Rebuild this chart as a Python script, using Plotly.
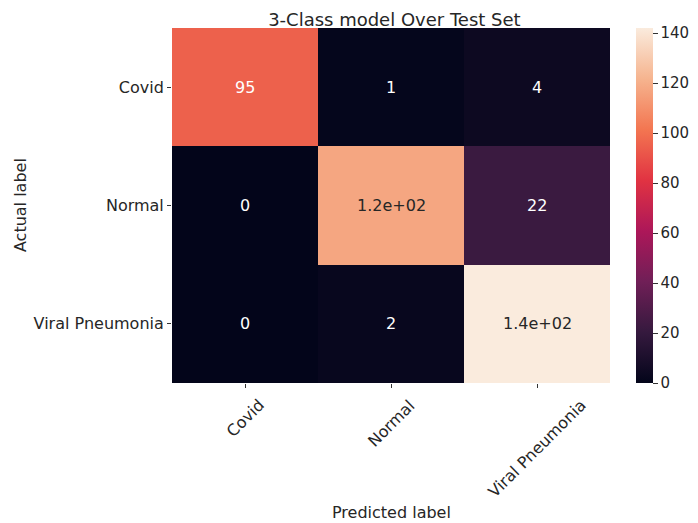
import plotly.graph_objects as go

classes = ["Covid", "Normal", "Viral Pneumonia"]
# rows = actual label, columns = predicted label
counts = [
    [95, 1, 4],
    [0, 117, 22],
    [0, 2, 142],
]

# seaborn "rocket" colormap, approximated
rocket = [
    [0.0, "#03051a"],
    [1 / 7, "#35193e"],
    [2 / 7, "#701f57"],
    [3 / 7, "#ad1759"],
    [4 / 7, "#e13342"],
    [5 / 7, "#f37651"],
    [6 / 7, "#f6b48f"],
    [1.0, "#faebdd"],
]

font = "DejaVu Sans"
fs = 16
vmax = max(max(r) for r in counts)

fig = go.Figure(go.Heatmap(
    z=counts, x=classes, y=classes,
    colorscale=rocket, zmin=0, zmax=vmax,
    xgap=0, ygap=0, hoverinfo="skip",
    colorbar=dict(
        x=1.059, xanchor="left", xref="paper",
        y=0.5, yanchor="middle", len=1, lenmode="fraction",
        thickness=17, outlinewidth=0, xpad=0, ypad=0,
        tickvals=[0, 20, 40, 60, 80, 100, 120, 140], tickprefix="  ",
        ticks="outside", ticklen=5, tickcolor="#333",
        tickfont=dict(family=font, size=fs - 1, color="#262626"),
    ),
))

# cell labels, seaborn-style ".2g" with contrast colour
for i, row in enumerate(counts):
    for j, v in enumerate(row):
        fig.add_annotation(
            x=classes[j], y=classes[i], text=format(v, ".2g"),
            showarrow=False,
            font=dict(family=font, size=fs,
                      color="#262626" if v / vmax > 0.75 else "white"),
        )

# rotated x tick labels, centered under ticks like matplotlib
for c in classes:
    fig.add_annotation(
        x=c, xref="x", y=0, yref="paper", yshift=-10,
        text=c, textangle=-45, showarrow=False,
        xanchor="center", yanchor="top",
        font=dict(family=font, size=fs, color="#262626"),
    )

fig.add_annotation(text="Predicted label", x=0.5, xref="paper", y=-0.365, yref="paper",
                   showarrow=False, yanchor="middle",
                   font=dict(family=font, size=fs, color="#262626"))
fig.add_annotation(text="Actual label", x=-0.372, xref="paper", y=0.5, yref="paper",
                   showarrow=False, textangle=-90, xanchor="left",
                   font=dict(family=font, size=fs, color="#262626"))

# page body adds an 8px margin, so the figure is 8px smaller than the window
fig.update_layout(
    width=690, height=515,
    margin=dict(l=164, r=88, t=20, b=140, autoexpand=False),
    paper_bgcolor="white", plot_bgcolor="white",
    title=dict(text="3-Class model Over Test Set", x=0.56, xanchor="center",
               y=0.99, yanchor="top", pad=dict(t=0),
               font=dict(family=font, size=18, color="#262626")),
    xaxis=dict(showticklabels=False, ticks="outside", ticklen=4, tickcolor="#333",
               showgrid=False, zeroline=False, showline=False),
    yaxis=dict(autorange="reversed", ticks="outside", ticklen=4, tickcolor="#333",
               showgrid=False, zeroline=False, showline=False,
               tickfont=dict(family=font, size=fs, color="#262626")),
)

fig.write_html("out.html")
